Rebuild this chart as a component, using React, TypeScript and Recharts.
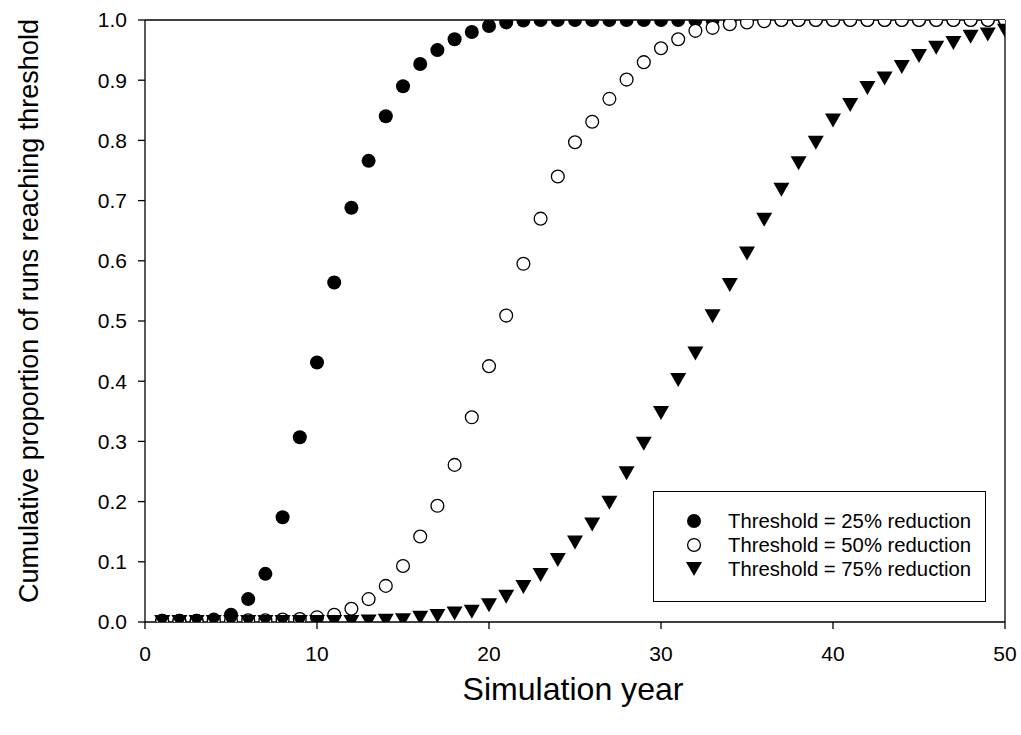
import React from 'react';
import { ScatterChart, Scatter, XAxis, YAxis, ReferenceLine, Legend, Label } from 'recharts';

const years = [1, 2, 3, 4, 5, 6, 7, 8, 9, 10, 11, 12, 13, 14, 15, 16, 17, 18, 19, 20, 21, 22, 23, 24, 25, 26, 27, 28, 29, 30, 31, 32, 33, 34, 35, 36, 37, 38, 39, 40, 41, 42, 43, 44, 45, 46, 47, 48, 49, 50];

const threshold25 = [0.002, 0.002, 0.002, 0.004, 0.012, 0.038, 0.080, 0.174, 0.307, 0.431, 0.564, 0.688, 0.766, 0.840, 0.890, 0.927, 0.950, 0.968, 0.980, 0.990, 0.996, 0.999, 1.0, 1.0, 1.0, 1.0, 1.0, 1.0, 1.0, 1.0, 1.0, 1.0, 1.0, 1.0, 1.0, 1.0, 1.0, 1.0, 1.0, 1.0, 1.0, 1.0, 1.0, 1.0, 1.0, 1.0, 1.0, 1.0, 1.0, 1.0];

const threshold50 = [0.002, 0.002, 0.002, 0.002, 0.002, 0.003, 0.003, 0.004, 0.005, 0.008, 0.012, 0.022, 0.038, 0.060, 0.093, 0.142, 0.193, 0.261, 0.340, 0.425, 0.509, 0.595, 0.670, 0.740, 0.797, 0.831, 0.869, 0.901, 0.930, 0.953, 0.968, 0.982, 0.987, 0.993, 0.996, 0.998, 1.0, 1.0, 1.0, 1.0, 1.0, 1.0, 1.0, 1.0, 1.0, 1.0, 1.0, 1.0, 1.0, 1.0];

const threshold75 = [0.0, 0.0, 0.0, 0.0, 0.0, 0.0, 0.0, 0.0, 0.0, 0.0, 0.0, 0.0, 0.001, 0.002, 0.003, 0.007, 0.010, 0.014, 0.017, 0.028, 0.042, 0.058, 0.078, 0.103, 0.132, 0.162, 0.198, 0.247, 0.296, 0.347, 0.402, 0.446, 0.508, 0.560, 0.612, 0.668, 0.718, 0.762, 0.796, 0.833, 0.859, 0.887, 0.903, 0.922, 0.940, 0.954, 0.962, 0.972, 0.976, 0.982];

const xTicks = [0, 10, 20, 30, 40, 50];
const yTicks = [0, 0.1, 0.2, 0.3, 0.4, 0.5, 0.6, 0.7, 0.8, 0.9, 1.0];

const seriesNames = ['Threshold = 25% reduction', 'Threshold = 50% reduction', 'Threshold = 75% reduction'];

const FONT = 'Arial, "Liberation Sans", sans-serif';

const d25 = years.map((x, i) => ({ x, y: threshold25[i] }));
const d50 = years.map((x, i) => ({ x, y: threshold50[i] }));
const d75 = years.map((x, i) => ({ x, y: threshold75[i] }));

const FilledCircle = (p: any) => <circle cx={p.cx} cy={p.cy} r={7} fill="#000" />;
const OpenCircle = (p: any) => <circle cx={p.cx} cy={p.cy} r={6.4} fill="#fff" stroke="#000" strokeWidth={1.3} />;
const DownTriangle = (p: any) => (
  <polygon
    points={`${p.cx - 8},${p.cy - 7} ${p.cx + 8},${p.cy - 7} ${p.cx},${p.cy + 7}`}
    fill="#000"
  />
);

const LegendBox = () => (
  <svg width={334} height={112} style={{ display: 'block' }}>
    <rect x={0.5} y={0.5} width={332} height={110} fill="#fff" stroke="#000" strokeWidth={1} />
    <circle cx={41} cy={30} r={7} fill="#000" />
    <circle cx={41} cy={54} r={6.4} fill="#fff" stroke="#000" strokeWidth={1.3} />
    <polygon points={`${41 - 8},${78 - 7} ${41 + 8},${78 - 7} ${41},${78 + 7}`} fill="#000" />
    {seriesNames.map((n, i) => (
      <text key={n} x={75} y={37 + i * 24} fontSize={20} textLength={243} lengthAdjust="spacingAndGlyphs" fontFamily={FONT} fill="#000">
        {n}
      </text>
    ))}
  </svg>
);

const YTitle = (props: any) => {
  return (
    <text
      x={38}
      y={311}
      transform="rotate(-90, 38, 311)"
      textAnchor="middle"
      fontSize={27}
      fontFamily={FONT}
      fill="#000"
    >
      Cumulative proportion of runs reaching threshold
    </text>
  );
};

const XTitle = (props: any) => {
  return (
    <text x={573} y={700} textAnchor="middle" fontSize={32} textLength={221} lengthAdjust="spacingAndGlyphs" fontFamily={FONT} fill="#000">
      Simulation year
    </text>
  );
};

export default function App() {
  return (
    <div style={{ position: 'absolute', left: 0, top: 0, width: 1021, height: 735, background: '#fff' }}>
      <ScatterChart width={1021} height={735} margin={{ top: 20, right: 16, left: 0, bottom: 0 }}>
        <XAxis
          type="number"
          dataKey="x"
          domain={[0, 50]}
          ticks={xTicks}
          allowDataOverflow
          height={113}
          tickSize={7}
          tickMargin={17}
          axisLine={{ stroke: '#000', strokeWidth: 1.3 }}
          tickLine={{ stroke: '#000', strokeWidth: 1.3 }}
          tick={{ fill: '#000', fontSize: 21, fontFamily: FONT }}
        >
          <Label content={XTitle} />
        </XAxis>
        <YAxis
          type="number"
          dataKey="y"
          domain={[0, 1]}
          ticks={yTicks}
          allowDataOverflow
          width={145}
          tickSize={7}
          tickMargin={11}
          tickFormatter={(v: number) => v.toFixed(1)}
          axisLine={{ stroke: '#000', strokeWidth: 1.3 }}
          tickLine={{ stroke: '#000', strokeWidth: 1.3 }}
          tick={{ fill: '#000', fontSize: 21, fontFamily: FONT }}
        >
          <Label content={YTitle} />
        </YAxis>
        <ReferenceLine y={1} stroke="#000" strokeWidth={1.3} />
        <ReferenceLine x={50} stroke="#000" strokeWidth={1.3} />
        <Legend
          layout="horizontal"
          verticalAlign="middle"
          align="center"
          content={LegendBox}
          wrapperStyle={{ position: 'absolute', left: 653, top: 491, width: 334, height: 112 }}
        />
        <Scatter name={seriesNames[0]} data={d25} shape={FilledCircle} isAnimationActive={false} />
        <Scatter name={seriesNames[1]} data={d50} shape={OpenCircle} isAnimationActive={false} />
        <Scatter name={seriesNames[2]} data={d75} shape={DownTriangle} isAnimationActive={false} />
      </ScatterChart>
    </div>
  );
}
